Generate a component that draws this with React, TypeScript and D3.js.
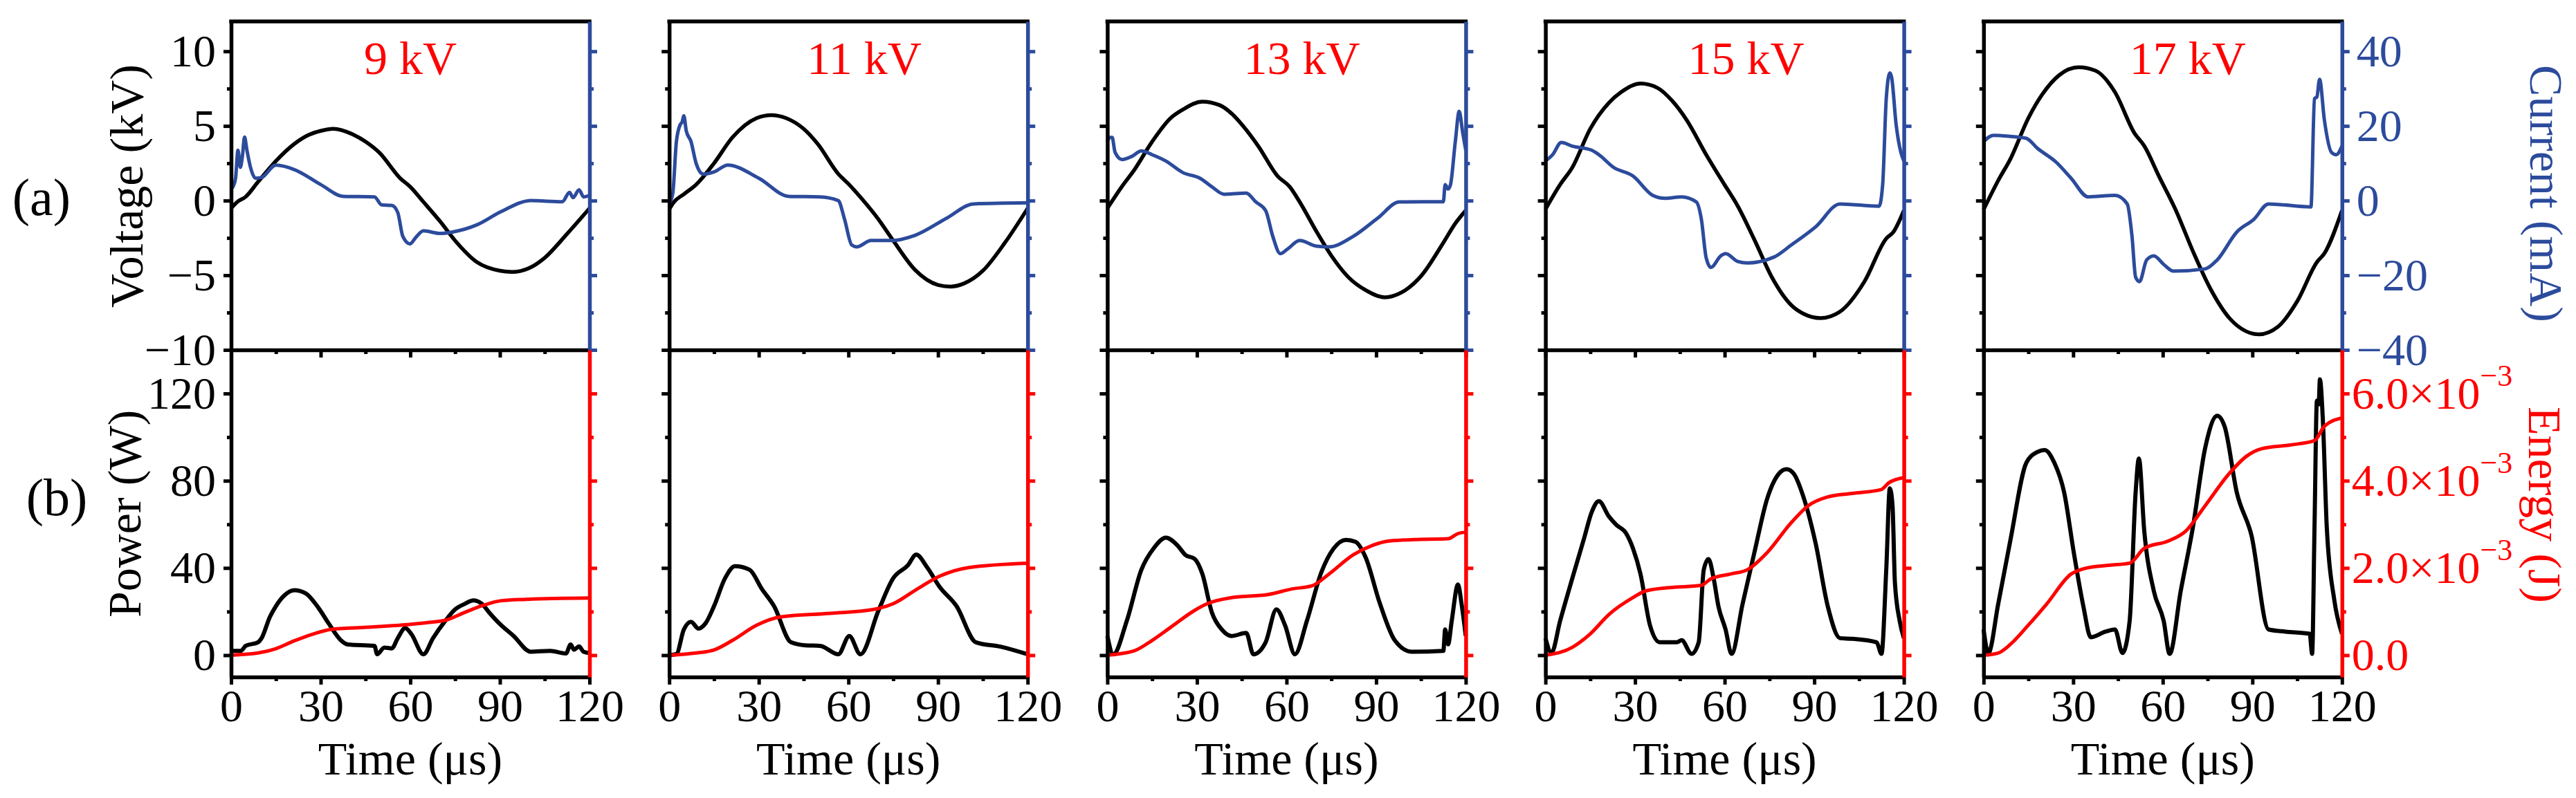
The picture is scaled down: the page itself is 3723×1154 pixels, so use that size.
import React, { useRef, useEffect } from 'react'
import * as d3 from 'd3'

type Pt = [number, number]

// panel titles (applied voltage)
const panelTitles = ['9 kV', '11 kV', '13 kV', '15 kV', '17 kV']

// tick values
const timeMajor = [0, 30, 60, 90, 120]
const timeMinor = [15, 45, 75, 105]
const voltageMajor = [-10, -5, 0, 5, 10]
const voltageMinor = [-7.5, -2.5, 2.5, 7.5]
const currentMajor = [-40, -20, 0, 20, 40]
const currentMinor = [-30, -10, 10, 30]
const powerMajor = [0, 40, 80, 120]
const powerMinor = [20, 60, 100]
const energyMajor = [0, 2, 4, 6] // x10^-3 J
const energyMinor = [1, 3, 5]

// ---- 9 kV ----  [time (us), value]
const voltage9: Pt[] = [[0,-0.52],[2,-0.1],[4.9,0.26],[9,1.25],[15,2.65],[21.2,3.8],[26,4.4],[30,4.67],[34.2,4.81],[40.7,4.44],[45,3.95],[49.7,3.2],[56.6,1.5],[60,0.92],[64.4,-0.09],[70,-1.4],[75,-2.68],[82.3,-4.12],[90,-4.7],[94.1,-4.78],[100,-4.5],[105,-3.83],[112.4,-2.25],[120,-0.52]]
const current9: Pt[] = [[0,3.1],[0.8,4],[1.5,6],[2.3,13.5],[3.1,8.9],[3.8,12],[4.5,17],[5.3,13.5],[6.5,8.9],[8.2,6.0],[10.2,6.2],[15,9.5],[21.2,8.3],[30,4.3],[37.5,1.15],[48,1.0],[50.4,-1.15],[53.8,-1.3],[55.8,-3.2],[57.5,-9.6],[59.9,-11.6],[61.9,-9.8],[64.4,-8.1],[70,-8.8],[74.2,-8.4],[82.3,-6.5],[90.5,-2.9],[100.3,0],[110.9,-0.3],[113.3,2.2],[114.5,0.8],[116.5,2.9],[118,1.0],[120,1.4]]
const power9: Pt[] = [[0,2],[3.3,2],[4.9,4.3],[9,5.9],[10.2,7.8],[13,17.6],[15,22.5],[17.9,27.5],[21.2,29.8],[24.9,28.4],[29.3,21.6],[32.6,14.7],[36.7,6.9],[39.1,4.9],[48,4.3],[48.9,0.4],[51.3,3.5],[53.8,3.1],[55.8,7.8],[58.3,12.4],[60.3,9.8],[64.4,0.4],[67.6,7.8],[71.7,15.7],[75,21],[78.2,23.5],[81.1,25.1],[84,23.5],[86.4,19.6],[89.7,14.7],[94.6,8.8],[100.3,1.6],[106.8,2],[112.1,0.8],[113.7,4.9],[114.8,2.5],[116.5,4],[118,1.6],[120,1]]
const energy9: Pt[] = [[0,0],[9,0.05],[15,0.15],[21.2,0.33],[27.7,0.49],[33.4,0.59],[45.6,0.64],[60.3,0.71],[67.6,0.76],[71.7,0.8],[78.2,0.98],[84.7,1.15],[90.5,1.25],[98.6,1.28],[120,1.31]]

// ---- 11 kV ----
const voltage11: Pt[] = [[0,-0.58],[1.6,-0.09],[4.9,0.43],[9,1.07],[15,2.5],[21.2,4.24],[29.3,5.53],[34.2,5.73],[39.1,5.53],[45,4.81],[49.7,3.8],[56.6,1.79],[60,1.12],[64.4,0.14],[70,-1.24],[75,-2.68],[82.3,-4.64],[90,-5.65],[94.1,-5.76],[98.6,-5.56],[105,-4.7],[112.4,-2.82],[120,-0.52]]
const current11: Pt[] = [[0,-0.9],[1.2,2],[2.4,15.8],[3.7,20.4],[4.3,21],[4.9,22.7],[5.7,18.7],[7.3,15.8],[9,10],[11.4,7.1],[15,7.7],[19.6,9.5],[30,6],[40,1.15],[50.5,1.0],[56.6,0],[58.7,-5],[61.1,-11.9],[62.8,-12.4],[67.6,-10.7],[74.2,-10.7],[82.3,-9.3],[92.9,-4.7],[101.9,-0.9],[120,-0.6]]
const power11: Pt[] = [[0,0],[2.4,0.5],[4.9,11.8],[7.3,15.3],[9.8,12.2],[12.2,14.7],[15,22.5],[18.7,35.3],[22,40.8],[26.9,39.2],[31,30.4],[35.1,22.5],[40.8,5.9],[45.6,4.5],[50.5,4.3],[56.6,0.4],[60.3,8.8],[64,0.4],[70.1,20.6],[75,35.3],[79.9,41.2],[82.7,46.1],[86.4,40.2],[90.5,31.4],[96.2,22.5],[102.7,5.9],[110.9,3.9],[120,0.4]]
const energy11: Pt[] = [[0,0],[9,0.05],[15,0.12],[21.2,0.34],[29.3,0.69],[37.5,0.88],[53.8,0.96],[68.5,1.05],[75,1.18],[83.1,1.52],[90.5,1.81],[100.3,2.01],[120,2.11]]

// ---- 13 kV ----
const voltage13: Pt[] = [[0,-0.52],[4.9,0.95],[9,2.05],[15,3.95],[21.2,5.53],[25.3,6.1],[31.8,6.63],[37.5,6.4],[42.4,5.68],[45.6,4.96],[50.5,3.66],[57,1.64],[61.1,0.92],[64.4,-0.09],[70.1,-2.1],[75,-3.69],[80.7,-5.13],[86.4,-5.99],[92.9,-6.48],[98.6,-6.14],[105.1,-5.04],[112.5,-2.82],[116.5,-1.53],[120,-0.66]]
const current13: Pt[] = [[0,15.8],[0.8,16.9],[1.6,16.9],[2.6,12.9],[4.9,11],[8.1,11.8],[11.4,13.3],[15,12.3],[19.6,10.6],[25.3,7.5],[31,6],[35,3.7],[39.1,1.7],[46.5,2],[49.7,-0.35],[53,-2.65],[55.4,-9.6],[57.9,-14.2],[60.3,-13],[64.4,-10.7],[70.1,-12.2],[74.2,-12.4],[82.3,-9.6],[90.5,-4.7],[97.8,-0.35],[112.5,-0.3],[113.1,4.3],[114.1,3.1],[114.9,4.3],[116.5,15.8],[117.8,23.9],[119,18.1],[120,13.5]]
const power13: Pt[] = [[0,8.8],[2,0.4],[6.5,15.7],[11.4,39.2],[15.5,49],[19.6,53.9],[23.7,50],[26.1,46],[29.3,44.1],[31.8,37.3],[35,19.6],[38.3,11.8],[41.6,8.8],[46.5,10.2],[48.9,0.4],[53,5.9],[56.6,21],[59.5,13.7],[62.8,0.4],[66.8,15.7],[71.7,38.2],[75.8,49],[79.9,52.9],[83.1,52],[86.4,45.1],[91.3,23.5],[96.2,6.9],[101.9,1.6],[112.5,2],[113.1,11.8],[114.1,5],[115.3,15.7],[117.4,32.4],[118.6,23.5],[120,8.8]]
const energy13: Pt[] = [[0,0],[9,0.1],[15,0.34],[21.2,0.64],[29.3,1.03],[33.4,1.18],[41.6,1.32],[53.8,1.39],[61.9,1.52],[68.5,1.59],[74.2,1.86],[82.3,2.3],[88.8,2.52],[94.5,2.62],[102.7,2.65],[114.1,2.67],[117.4,2.79],[120,2.82]]

// ---- 15 kV ----
const voltage15: Pt[] = [[0,-0.58],[4.9,1.07],[9,2.22],[15,4.81],[21.2,6.54],[25.3,7.26],[31.8,7.84],[37.5,7.55],[42.4,6.69],[47.3,5.39],[53.8,3.08],[59.5,1.21],[64.4,-0.37],[70.1,-2.68],[75.8,-5.13],[82.3,-7.0],[86.4,-7.58],[92.1,-7.87],[98.6,-7.44],[106.8,-5.42],[114.1,-2.54],[116.5,-2.1],[120,-0.66]]
const current15: Pt[] = [[0,10.6],[2.4,12.3],[5.3,15.6],[9,14.6],[15.5,13.5],[17.9,12.3],[22.8,8.9],[29.3,6.6],[35.9,1.4],[40,0.6],[45.6,1.0],[50.5,-0.35],[52.2,-5],[53.8,-15.3],[55.4,-17.9],[58.7,-14.8],[60.3,-14.2],[64.4,-16.3],[67.6,-16.7],[76.6,-15.1],[82.3,-11.9],[90.5,-7],[98.6,-0.9],[111.7,-1.5],[112.9,4.3],[114.1,27.3],[115.3,34.2],[115.9,33],[117.4,20.4],[119,12.9],[120,10.6]]
const power15: Pt[] = [[0,7.8],[2,1],[4.9,15.7],[9,35.3],[13,53.9],[15.5,65.7],[17.9,70.6],[21.2,63.7],[23.7,59.8],[27,55.9],[29.3,49],[31.8,37.3],[35,13.7],[38.3,5.9],[44,5.9],[45.6,6.9],[48.9,0.6],[51.3,5.9],[53,39.2],[54.6,44.1],[56.3,35.3],[57.9,22.5],[60.3,11.8],[62.3,0.6],[66,23.5],[70.1,48],[74.2,71.6],[78.2,83.3],[80.7,85.3],[83.1,83.3],[86.4,72.5],[90.5,51],[94.5,22.5],[98.6,7.8],[102.7,7.5],[110.9,5.9],[112.5,0.6],[114.1,39.2],[115.3,76.5],[116.2,68.6],[117,33.3],[118.6,15.7],[120,7.8]]
const energy15: Pt[] = [[0,0],[9,0.18],[15,0.49],[21.2,0.93],[29.3,1.32],[33.4,1.47],[41.6,1.55],[52.1,1.6],[55.4,1.75],[61.9,1.86],[67.6,1.96],[74.2,2.35],[82.3,3.04],[88,3.43],[94.5,3.63],[102.7,3.71],[112.5,3.8],[114.9,3.95],[120,4.07]]

// ---- 17 kV ----
const voltage17: Pt[] = [[0,-0.6],[4.9,1.35],[9,2.8],[15,5.53],[19.6,7.1],[25.3,8.4],[31.8,8.93],[37.5,8.7],[44,7.26],[50.5,4.52],[53.8,3.66],[58.7,1.64],[64.4,-0.66],[70.1,-3.4],[75.8,-5.85],[82.3,-7.87],[86.4,-8.59],[92.1,-8.96],[98.6,-8.44],[105.1,-6.71],[111.6,-4.12],[114.1,-3.54],[120,-0.66]]
const current17: Pt[] = [[0,15.8],[3.3,17.5],[9,17.2],[14.3,16.7],[17.9,14.1],[24.3,10.3],[29.3,6],[35,1.0],[44,1.4],[48.1,-0.9],[49.7,-9.6],[50.9,-20.5],[52.2,-21.7],[54.6,-15.9],[57,-14.8],[60.3,-17.1],[63.6,-18.9],[74.2,-18.3],[78.2,-15.9],[84.8,-8.4],[90.5,-5],[95.4,-0.9],[109.6,-1.7],[110.8,27.3],[111.6,27.8],[112.5,32.5],[114.1,21.6],[116.5,12.9],[118.1,12.3],[120,14.6]]
const power17: Pt[] = [[0,11.8],[1.6,1],[4.9,23.5],[9,52.9],[14.3,88.2],[17.9,93.1],[20.4,94.1],[23.7,88.2],[27,74.5],[30.2,47.1],[33.4,22.5],[35.9,8.2],[40.8,10.8],[44,11.8],[46.5,1],[48.9,15.7],[50.9,74.5],[52,90.2],[53.8,56.9],[57,29.4],[60.3,15.7],[62.3,0.6],[66,29.4],[70.1,58.8],[74.2,95.1],[78.2,109.8],[80.7,104.9],[84.8,74.5],[89.7,54.9],[95.4,11.8],[101.1,10.8],[109.2,9.8],[110,0.6],[110.8,58.8],[111.6,116.7],[112.2,115],[112.6,126.5],[113.6,107.8],[114.9,58.8],[117.4,25.5],[120,9.8]]
const energy17: Pt[] = [[0,0],[4.9,0.05],[9,0.25],[15,0.69],[21.2,1.18],[29.3,1.86],[33.4,1.98],[41.6,2.06],[48.9,2.11],[53.8,2.45],[61.9,2.62],[67.6,2.84],[74.2,3.43],[82.3,4.17],[88,4.56],[92.9,4.73],[102.7,4.82],[110.8,4.92],[114.1,5.25],[120,5.44]]

const panels = [
  { title: panelTitles[0], voltage: voltage9, current: current9, power: power9, energy: energy9 },
  { title: panelTitles[1], voltage: voltage11, current: current11, power: power11, energy: energy11 },
  { title: panelTitles[2], voltage: voltage13, current: current13, power: power13, energy: energy13 },
  { title: panelTitles[3], voltage: voltage15, current: current15, power: power15, energy: energy15 },
  { title: panelTitles[4], voltage: voltage17, current: current17, power: power17, energy: energy17 },
]

const W = 3723
const H = 1154
const FONT = '"Liberation Serif", "Times New Roman", Times, serif'
const BLUE = '#2c4b9c'
const RED = '#ff0000'

export default function App() {
  const svgRef = useRef<SVGSVGElement>(null)

  useEffect(() => {
    if (!svgRef.current) return
    const svg = d3.select(svgRef.current)
    svg.selectAll('*').remove()

    const left0 = 334
    const step = 633.2
    const pw = 518
    const topY = 31
    const midY = 506
    const botY = 979
    const titleOffsets = [192, 199, 197, 206, 211]

    const yV = d3.scaleLinear().domain([-10, 12]).range([midY, topY])
    const yI = d3.scaleLinear().domain([-40, 48]).range([midY, topY])
    const yP = d3.scaleLinear().domain([-10, 140]).range([botY, midY])
    const yE = d3.scaleLinear().domain([-0.5, 7]).range([botY, midY])

    const style = (sel: any, color: string, keepDomain = true) => {
      sel.attr('font-family', FONT).attr('font-size', 66)
      if (keepDomain) sel.select('.domain').attr('stroke', color).attr('stroke-width', 5.5)
      else sel.select('.domain').remove()
      sel.selectAll('.tick line').attr('stroke', color).attr('stroke-width', 5)
      sel.selectAll('.tick text').attr('fill', color)
    }

    panels.forEach((p, i) => {
      const x0 = left0 + i * step
      const x = d3.scaleLinear().domain([0, 120]).range([x0, x0 + pw])
      const g = svg.append('g')
      const first = i === 0
      const last = i === panels.length - 1

      const line = (ys: d3.ScaleLinear<number, number>) =>
        d3.line<Pt>().x(d => x(d[0])).y(d => ys(d[1])).curve(d3.curveMonotoneX)

      // data lines
      g.append('path').datum(p.voltage).attr('d', line(yV)).attr('fill', 'none')
        .attr('stroke', '#000').attr('stroke-width', 5.5).attr('stroke-linejoin', 'round')
      g.append('path').datum(p.current).attr('d', line(yI)).attr('fill', 'none')
        .attr('stroke', BLUE).attr('stroke-width', 5).attr('stroke-linejoin', 'round')
      g.append('path').datum(p.power).attr('d', line(yP)).attr('fill', 'none')
        .attr('stroke', '#000').attr('stroke-width', 6).attr('stroke-linejoin', 'round')
      g.append('path').datum(p.energy).attr('d', line(yE)).attr('fill', 'none')
        .attr('stroke', RED).attr('stroke-width', 5).attr('stroke-linejoin', 'round')

      // top frame line
      g.append('line').attr('x1', x0).attr('x2', x0 + pw).attr('y1', topY).attr('y2', topY)
        .attr('stroke', '#000').attr('stroke-width', 5.5).attr('stroke-linecap', 'square')

      // voltage axis
      g.append('g').attr('transform', `translate(${x0},0)`)
        .call(d3.axisLeft(yV).tickValues(voltageMinor).tickSize(6).tickSizeOuter(0).tickFormat(() => ''))
        .call(s => style(s, '#000', false))
      g.append('g').attr('transform', `translate(${x0},0)`)
        .call(d3.axisLeft(yV).tickValues(voltageMajor).tickSize(11).tickSizeOuter(0).tickPadding(11)
          .tickFormat(first ? d3.format('d') : () => ''))
        .call(s => style(s, '#000'))

      // power axis
      g.append('g').attr('transform', `translate(${x0},0)`)
        .call(d3.axisLeft(yP).tickValues(powerMinor).tickSize(6).tickSizeOuter(0).tickFormat(() => ''))
        .call(s => style(s, '#000', false))
      g.append('g').attr('transform', `translate(${x0},0)`)
        .call(d3.axisLeft(yP).tickValues(powerMajor).tickSize(11).tickSizeOuter(0).tickPadding(11)
          .tickFormat(first ? d3.format('d') : () => ''))
        .call(s => style(s, '#000'))

      // time axis between panels (no labels)
      g.append('g').attr('transform', `translate(0,${midY})`)
        .call(d3.axisBottom(x).tickValues(timeMinor).tickSize(6).tickSizeOuter(0).tickFormat(() => ''))
        .call(s => style(s, '#000', false))
      g.append('g').attr('transform', `translate(0,${midY})`)
        .call(d3.axisBottom(x).tickValues(timeMajor).tickSize(11).tickSizeOuter(0).tickFormat(() => ''))
        .call(s => style(s, '#000'))

      // bottom time axis
      g.append('g').attr('transform', `translate(0,${botY})`)
        .call(d3.axisBottom(x).tickValues(timeMinor).tickSize(6).tickSizeOuter(0).tickFormat(() => ''))
        .call(s => style(s, '#000', false))
      g.append('g').attr('transform', `translate(0,${botY})`)
        .call(d3.axisBottom(x).tickValues(timeMajor).tickSize(11).tickSizeOuter(0).tickPadding(6).tickFormat(d3.format('d')))
        .call(s => style(s, '#000'))

      // current axis (right, blue)
      g.append('g').attr('transform', `translate(${x0 + pw},0)`)
        .call(d3.axisRight(yI).tickValues(currentMinor).tickSize(6).tickSizeOuter(0).tickFormat(() => ''))
        .call(s => style(s, BLUE, false))
      g.append('g').attr('transform', `translate(${x0 + pw},0)`)
        .call(d3.axisRight(yI).tickValues(currentMajor).tickSize(11).tickSizeOuter(0).tickPadding(10)
          .tickFormat(last ? d3.format('d') : () => ''))
        .call(s => style(s, BLUE))

      // energy axis (right, red)
      g.append('g').attr('transform', `translate(${x0 + pw},0)`)
        .call(d3.axisRight(yE).tickValues(energyMinor).tickSize(6).tickSizeOuter(0).tickFormat(() => ''))
        .call(s => style(s, RED, false))
      const eAxis = g.append('g').attr('transform', `translate(${x0 + pw},0)`)
        .call(d3.axisRight(yE).tickValues(energyMajor).tickSize(11).tickSizeOuter(0).tickPadding(3)
          .tickFormat(() => ''))
        .call(s => style(s, RED))
      if (last) {
        eAxis.selectAll<SVGTextElement, number>('.tick text').each(function (d) {
          const t = d3.select(this)
          if (d === 0) {
            t.text('0.0')
          } else {
            t.append('tspan').text(`${d.toFixed(1)}×10`)
            t.append('tspan').attr('font-size', 44).attr('dy', '-0.75em').text('−3')
          }
        })
      }

      // panel title
      g.append('text').attr('x', x0 + titleOffsets[i]).attr('y', 107)
        .attr('font-family', FONT).attr('font-size', 68).attr('fill', RED).text(p.title)

      // time label
      g.append('text').attr('x', x0 + pw / 2).attr('y', 1120).attr('text-anchor', 'middle')
        .attr('font-family', FONT).attr('font-size', 68).attr('fill', '#000').text('Time (μs)')
    })

    // axis titles
    const title = (txt: string, tx: number, ty: number, rot: number, color: string) =>
      svg.append('text').attr('transform', `translate(${tx},${ty}) rotate(${rot})`)
        .attr('text-anchor', 'middle').attr('font-family', FONT).attr('font-size', 68)
        .attr('fill', color).text(txt)

    title('Voltage (kV)', 206, 269, -90, '#000')
    title('Power (W)', 203, 743, -90, '#000')
    title('Current (mA)', 3657, 280, 90, BLUE)
    title('Energy (J)', 3655, 730, 90, RED)

    svg.append('text').attr('x', 60).attr('y', 311).attr('text-anchor', 'middle')
      .attr('font-family', FONT).attr('font-size', 76).text('(a)')
    svg.append('text').attr('x', 82).attr('y', 745).attr('text-anchor', 'middle')
      .attr('font-family', FONT).attr('font-size', 76).text('(b)')
  }, [])

  return (
    <svg
      ref={svgRef}
      width={W}
      height={H}
      style={{ position: 'absolute', left: 0, top: 0, background: '#fff' }}
    />
  )
}
